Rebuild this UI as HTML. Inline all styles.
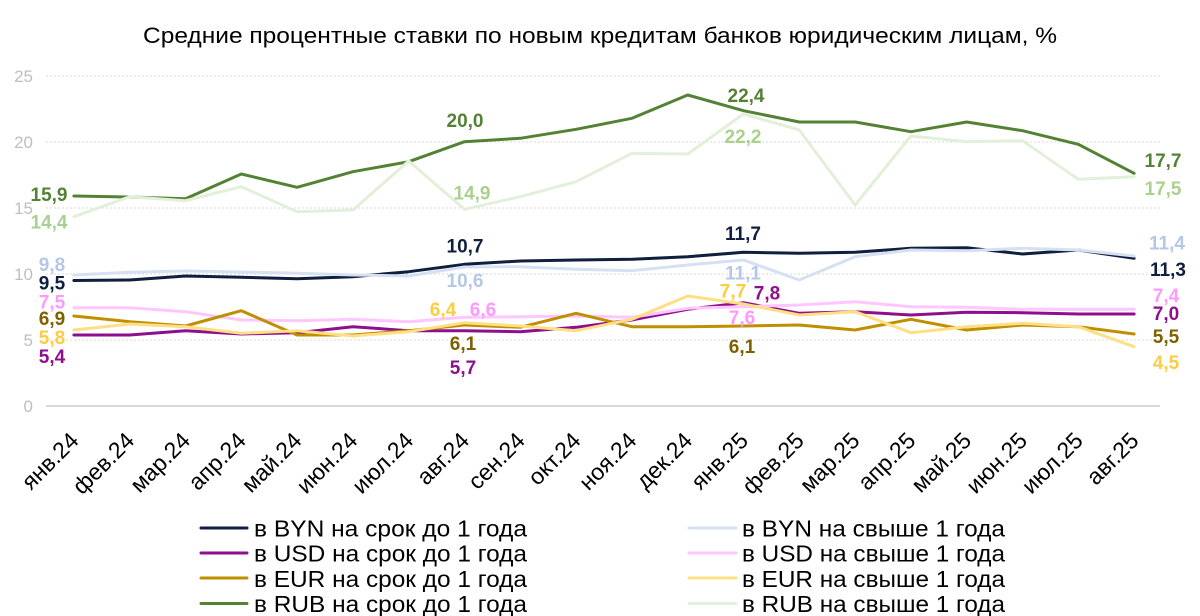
<!DOCTYPE html>
<html>
<head>
<meta charset="utf-8">
<style>
html,body{margin:0;padding:0;background:#fff;}
svg{display:block;}
text{font-family:"Liberation Sans", Arial, sans-serif;}
</style>
</head>
<body>
<svg width="1200" height="616" viewBox="0 0 1200 616" xmlns="http://www.w3.org/2000/svg">
<rect width="1200" height="616" fill="#fff"/>
<text x="600" y="43" font-size="22" text-anchor="middle" textLength="914" lengthAdjust="spacingAndGlyphs" fill="#000">Средние процентные ставки по новым кредитам банков юридическим лицам, %</text>

<!-- grid -->
<g stroke="#d9d9d9" stroke-width="1" stroke-dasharray="2,2">
<line x1="46" y1="76" x2="1160" y2="76"/>
<line x1="46" y1="142" x2="1160" y2="142"/>
<line x1="46" y1="208" x2="1160" y2="208"/>
<line x1="46" y1="274" x2="1160" y2="274"/>
<line x1="46" y1="340" x2="1160" y2="340"/>
</g>
<line x1="46" y1="406" x2="1160" y2="406" stroke="#d9d9d9" stroke-width="2"/>

<g font-size="17" fill="#bfbfbf" text-anchor="end">
<text x="33" y="82">25</text>
<text x="33" y="148">20</text>
<text x="33" y="214">15</text>
<text x="33" y="280">10</text>
<text x="33" y="346">5</text>
<text x="33" y="412">0</text>
</g>

<!-- x labels -->
<g font-size="23" fill="#000" text-anchor="end">
<text transform="translate(80,442) rotate(-45)">янв.24</text>
<text transform="translate(135.7,442) rotate(-45)">фев.24</text>
<text transform="translate(191.5,442) rotate(-45)">мар.24</text>
<text transform="translate(247.3,442) rotate(-45)">апр.24</text>
<text transform="translate(303.1,442) rotate(-45)">май.24</text>
<text transform="translate(358.9,442) rotate(-45)">июн.24</text>
<text transform="translate(414.7,442) rotate(-45)">июл.24</text>
<text transform="translate(470.5,442) rotate(-45)">авг.24</text>
<text transform="translate(526.3,442) rotate(-45)">сен.24</text>
<text transform="translate(582.1,442) rotate(-45)">окт.24</text>
<text transform="translate(637.9,442) rotate(-45)">ноя.24</text>
<text transform="translate(693.7,442) rotate(-45)">дек.24</text>
<text transform="translate(749.5,442) rotate(-45)">янв.25</text>
<text transform="translate(805.3,442) rotate(-45)">фев.25</text>
<text transform="translate(861.1,442) rotate(-45)">мар.25</text>
<text transform="translate(916.9,442) rotate(-45)">апр.25</text>
<text transform="translate(972.7,442) rotate(-45)">май.25</text>
<text transform="translate(1028.5,442) rotate(-45)">июн.25</text>
<text transform="translate(1084.3,442) rotate(-45)">июл.25</text>
<text transform="translate(1140.1,442) rotate(-45)">авг.25</text>
</g>

<!-- series -->
<g fill="none" stroke-width="3" stroke-linejoin="round" stroke-linecap="round">
<polyline stroke="#0f1f3d" points="73.9,280.5 129.7,280 185.5,276 241.3,277.3 297.1,278.7 352.9,276.7 408.7,271.7 464.5,264.3 520.3,261 576.1,260 631.9,259.3 687.7,256.7 743.5,252.3 799.3,253.3 855.1,252.3 910.9,248.3 966.7,247.7 1022.5,254 1078.3,250 1134.1,258.3"/>
<polyline stroke="#d6e0f2" points="73.9,275 129.7,272.3 185.5,271 241.3,272 297.1,273.3 352.9,275 408.7,276 464.5,267 520.3,266.7 576.1,269.3 631.9,270.7 687.7,265 743.5,260 799.3,280 855.1,256.7 910.9,250 966.7,250.7 1022.5,248.3 1078.3,250 1134.1,256"/>
<polyline stroke="#8e0f8e" points="73.9,335 129.7,335 185.5,330.7 241.3,334 297.1,332.7 352.9,326.7 408.7,330.7 464.5,330.7 520.3,331.7 576.1,327.3 631.9,320 687.7,309.3 743.5,302.7 799.3,313.3 855.1,311.7 910.9,315 966.7,312.3 1022.5,312.7 1078.3,314 1134.1,314"/>
<polyline stroke="#ffc6ff" points="73.9,307.7 129.7,307.7 185.5,311.7 241.3,320 297.1,320.7 352.9,319.3 408.7,321.7 464.5,317.3 520.3,316.7 576.1,316 631.9,317.3 687.7,308.3 743.5,306.7 799.3,305 855.1,301.7 910.9,306.7 966.7,307.3 1022.5,309.3 1078.3,309.3 1134.1,309.3"/>
<polyline stroke="#bf8f00" points="73.9,316 129.7,321.7 185.5,326 241.3,310.7 297.1,335 352.9,335 408.7,330.7 464.5,325 520.3,327.3 576.1,313.3 631.9,326.7 687.7,326.7 743.5,326 799.3,325 855.1,330 910.9,319.3 966.7,330 1022.5,325 1078.3,326.7 1134.1,334"/>
<polyline stroke="#ffdf85" points="73.9,330 129.7,324 185.5,326.7 241.3,333.3 297.1,330.7 352.9,336 408.7,331.7 464.5,322.7 520.3,326 576.1,330.7 631.9,319.3 687.7,296 743.5,304 799.3,315 855.1,311.7 910.9,332.7 966.7,326.7 1022.5,323.3 1078.3,326.7 1134.1,346.7"/>
<polyline stroke="#548235" points="73.9,196 129.7,197 185.5,198.7 241.3,174 297.1,187.3 352.9,171.7 408.7,161.7 464.5,141.7 520.3,138.3 576.1,129.3 631.9,118.3 687.7,95 743.5,110.7 799.3,122 855.1,122 910.9,131.7 966.7,122 1022.5,130.7 1078.3,144.3 1134.1,173.3"/>
<polyline stroke="#e2efd9" points="73.9,216.7 129.7,196.7 185.5,200.7 241.3,186.7 297.1,211.7 352.9,210 408.7,161 464.5,209.3 520.3,196.7 576.1,181.7 631.9,153.3 687.7,154 743.5,114 799.3,130 855.1,205 910.9,136 966.7,141.7 1022.5,140.7 1078.3,179.3 1134.1,176.7"/>
</g>

<!-- data labels -->
<g font-size="19" font-weight="bold" text-anchor="middle">
<text x="49" y="201" fill="#548235">15,9</text>
<text x="49" y="228.5" fill="#a9d18e">14,4</text>
<text x="52" y="271" fill="#b4c7e7">9,8</text>
<text x="52" y="289.5" fill="#0f1f3d">9,5</text>
<text x="52" y="308.5" fill="#ff99ff">7,5</text>
<text x="52" y="325" fill="#7f6000">6,9</text>
<text x="52" y="344" fill="#ffcc40">5,8</text>
<text x="52" y="363" fill="#8e0f8e">5,4</text>

<text x="465" y="127" fill="#548235">20,0</text>
<text x="472" y="199.5" fill="#a9d18e">14,9</text>
<text x="465" y="252.5" fill="#0f1f3d">10,7</text>
<text x="465" y="287" fill="#b4c7e7">10,6</text>
<text x="443" y="316" fill="#ffcc40">6,4</text>
<text x="483" y="316" fill="#ff99ff">6,6</text>
<text x="463" y="350" fill="#7f6000">6,1</text>
<text x="463" y="374" fill="#8e0f8e">5,7</text>

<text x="746" y="102" fill="#548235">22,4</text>
<text x="743" y="143" fill="#a9d18e">22,2</text>
<text x="743" y="240" fill="#0f1f3d">11,7</text>
<text x="743" y="279.5" fill="#b4c7e7">11,1</text>
<text x="733" y="297.5" fill="#ffcc40">7,7</text>
<text x="767" y="299.5" fill="#8e0f8e">7,8</text>
<text x="742" y="324" fill="#ff99ff">7,6</text>
<text x="742" y="353" fill="#7f6000">6,1</text>

<text x="1163" y="167" fill="#548235">17,7</text>
<text x="1163" y="195" fill="#a9d18e">17,5</text>
<text x="1167" y="249.5" fill="#b4c7e7">11,4</text>
<text x="1168" y="276" fill="#0f1f3d">11,3</text>
<text x="1166" y="302" fill="#ff99ff">7,4</text>
<text x="1166" y="320" fill="#8e0f8e">7,0</text>
<text x="1166" y="343" fill="#7f6000">5,5</text>
<text x="1166" y="369" fill="#ffcc40">4,5</text>
</g>

<!-- legend -->
<g stroke-width="3" stroke-linecap="round">
<line x1="201" y1="528" x2="247" y2="528" stroke="#0f1f3d"/>
<line x1="201" y1="553" x2="247" y2="553" stroke="#8e0f8e"/>
<line x1="201" y1="578" x2="247" y2="578" stroke="#bf8f00"/>
<line x1="201" y1="603.5" x2="247" y2="603.5" stroke="#548235"/>
<line x1="689" y1="528" x2="736" y2="528" stroke="#d6e0f2"/>
<line x1="689" y1="553" x2="736" y2="553" stroke="#ffc6ff"/>
<line x1="689" y1="578" x2="736" y2="578" stroke="#ffdf85"/>
<line x1="689" y1="603.5" x2="736" y2="603.5" stroke="#e2efd9"/>
</g>
<g font-size="23" fill="#000">
<text x="254" y="536.5" textLength="273" lengthAdjust="spacingAndGlyphs">в BYN на срок до 1 года</text>
<text x="254" y="561.7" textLength="273" lengthAdjust="spacingAndGlyphs">в USD на срок до 1 года</text>
<text x="254" y="586.8" textLength="273" lengthAdjust="spacingAndGlyphs">в EUR на срок до 1 года</text>
<text x="254" y="612.2" textLength="273" lengthAdjust="spacingAndGlyphs">в RUB на срок до 1 года</text>
<text x="742" y="536.5" textLength="263" lengthAdjust="spacingAndGlyphs">в BYN на свыше 1 года</text>
<text x="742" y="561.7" textLength="263" lengthAdjust="spacingAndGlyphs">в USD на свыше 1 года</text>
<text x="742" y="586.8" textLength="263" lengthAdjust="spacingAndGlyphs">в EUR на свыше 1 года</text>
<text x="742" y="612.2" textLength="263" lengthAdjust="spacingAndGlyphs">в RUB на свыше 1 года</text>
</g>
</svg>
</body>
</html>
